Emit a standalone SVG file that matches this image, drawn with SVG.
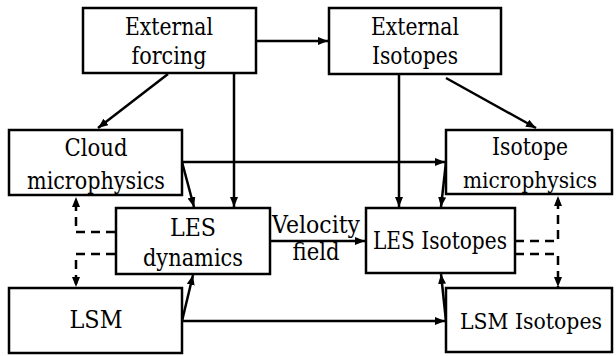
<svg xmlns="http://www.w3.org/2000/svg" width="616" height="356" viewBox="0 0 616 356">
<style>
rect{fill:#fff;stroke:#000;stroke-width:2.5}
text{font-family:'DejaVu Serif','Liberation Serif',serif;font-size:24px;fill:#000;text-anchor:middle}
text.n{font-size:22px}
.c{fill:none;stroke:#000;stroke-width:2.5}
.d{fill:none;stroke:#000;stroke-width:2.5;stroke-dasharray:9,6}
</style>
<defs>
<marker id="a" viewBox="0 0 10 8" refX="10" refY="4" markerWidth="10" markerHeight="8" markerUnits="userSpaceOnUse" orient="auto">
<path d="M0,0 L10,4 L0,8 Z" fill="#000"/>
</marker>
</defs>
<g id="connectors">
<path class="c" d="M256,41 H328" marker-end="url(#a)"/>
<path class="c" d="M168,74 L98,128" marker-end="url(#a)"/>
<path class="c" d="M234,74 V207" marker-end="url(#a)"/>
<path class="c" d="M182,162 H445" marker-end="url(#a)"/>
<path class="c" d="M182,162 L194,207" marker-end="url(#a)"/>
<path class="c" d="M399,74 V207" marker-end="url(#a)"/>
<path class="c" d="M446,78 L536,128" marker-end="url(#a)"/>
<path class="c" d="M446,162 L441,207" marker-end="url(#a)"/>
<path class="c" d="M270,241 H365" marker-end="url(#a)"/>
<path class="c" d="M182,321 H445" marker-end="url(#a)"/>
<path class="c" d="M182,321 L193,275" marker-end="url(#a)"/>
<path class="c" d="M446,321 L441,274" marker-end="url(#a)"/>
<path class="d" d="M115,232 H76 V197" marker-end="url(#a)"/>
<path class="d" d="M115,254 H76 V287" marker-end="url(#a)"/>
<path class="d" d="M515,241 H558 V196" marker-end="url(#a)"/>
<path class="d" d="M515,254 H558 V287" marker-end="url(#a)"/>
<text x="316" y="233" textLength="88" lengthAdjust="spacingAndGlyphs">Velocity</text>
<text x="316" y="260" textLength="47" lengthAdjust="spacingAndGlyphs">field</text>
</g>
<g id="external-forcing">
<rect x="83" y="8" width="173" height="65"/>
<text x="169" y="35" textLength="88" lengthAdjust="spacingAndGlyphs">External</text>
<text x="169" y="64" textLength="75" lengthAdjust="spacingAndGlyphs">forcing</text>
</g>
<g id="external-isotopes">
<rect x="329" y="8" width="172" height="66"/>
<text x="415" y="35" textLength="88" lengthAdjust="spacingAndGlyphs">External</text>
<text x="415" y="64" textLength="86" lengthAdjust="spacingAndGlyphs">Isotopes</text>
</g>
<g id="cloud-microphysics">
<rect x="9" y="130" width="173" height="65"/>
<text x="96" y="156" textLength="63" lengthAdjust="spacingAndGlyphs">Cloud</text>
<text x="96" y="189" textLength="138" lengthAdjust="spacingAndGlyphs">microphysics</text>
</g>
<g id="isotope-microphysics">
<rect x="446" y="130" width="166" height="64"/>
<text x="530" y="155" textLength="76" lengthAdjust="spacingAndGlyphs">Isotope</text>
<text class="n" x="530" y="188" textLength="134" lengthAdjust="spacingAndGlyphs">microphysics</text>
</g>
<g id="les-dynamics">
<rect x="116" y="208" width="154" height="66"/>
<text x="193" y="236" textLength="46" lengthAdjust="spacingAndGlyphs">LES</text>
<text x="193" y="266" textLength="100" lengthAdjust="spacingAndGlyphs">dynamics</text>
</g>
<g id="les-isotopes">
<rect x="366" y="208" width="149" height="65"/>
<text x="440" y="249" textLength="134" lengthAdjust="spacingAndGlyphs">LES Isotopes</text>
</g>
<g id="lsm">
<rect x="9" y="288" width="173" height="65"/>
<text x="96" y="328" textLength="53" lengthAdjust="spacingAndGlyphs">LSM</text>
</g>
<g id="lsm-isotopes">
<rect x="446" y="288" width="166" height="64"/>
<text class="n" x="531" y="329" textLength="142" lengthAdjust="spacingAndGlyphs">LSM Isotopes</text>
</g>
</svg>
